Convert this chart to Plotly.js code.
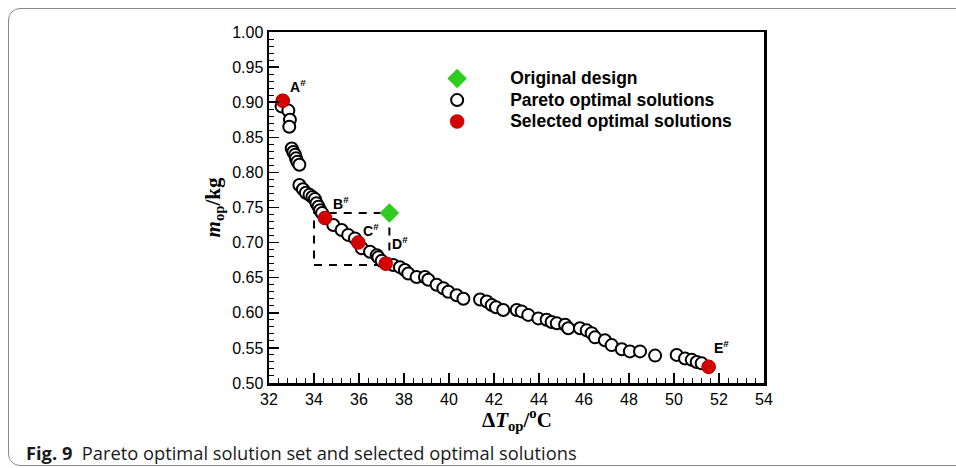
<!DOCTYPE html>
<html>
<head>
<meta charset="utf-8">
<script src="https://cdn.plot.ly/plotly-3.0.1.min.js"></script>
<style>
  html, body { margin: 0; padding: 0; background: #fff; }
  #wrap { position: relative; width: 956px; height: 468px; overflow: hidden; }
  #frame { position: absolute; left: 8px; top: 8px; width: 1100px; height: 458px;
           border: 1.5px solid #8a8a8a; border-radius: 12px; box-sizing: border-box; }
  #chart { position: absolute; left: 0; top: 0; width: 956px; height: 468px; }
</style>
</head>
<body>
<div id="wrap">
  <div id="frame"></div>
  <div id="chart"></div>
</div>
<script>
// Pareto optimal solutions (ΔT_op in °C, m_op in kg)
const paretoT = [32.61, 32.56, 32.86, 32.93, 32.90, 33.01, 33.08, 33.16, 33.20, 33.26,
  33.35, 33.35, 33.51, 33.64, 33.80, 33.93, 34.04, 34.11, 34.20, 34.27,
  34.36, 34.49, 34.86, 35.23, 35.52, 35.82, 35.97, 36.12, 36.49, 36.79,
  36.86, 37.01, 37.19, 37.52, 37.82, 38.04, 38.19, 38.56, 38.93, 39.08,
  39.45, 39.75, 39.97, 40.34, 40.64, 41.38, 41.68, 41.90, 42.09, 42.41,
  43.01, 43.23, 43.52, 43.97, 44.34, 44.56, 44.79, 45.16, 45.30, 45.82,
  46.12, 46.34, 46.49, 46.93, 47.23, 47.68, 48.04, 48.49, 49.16, 50.12,
  50.49, 50.79, 51.01, 51.23, 51.54];
const paretoM = [0.902, 0.894, 0.888, 0.875, 0.865, 0.834, 0.829, 0.825, 0.820, 0.815,
  0.811, 0.782, 0.776, 0.771, 0.768, 0.765, 0.762, 0.756, 0.751, 0.746,
  0.742, 0.735, 0.725, 0.718, 0.711, 0.706, 0.700, 0.692, 0.687, 0.682,
  0.679, 0.674, 0.670, 0.668, 0.665, 0.661, 0.656, 0.651, 0.651, 0.647,
  0.640, 0.635, 0.630, 0.625, 0.620, 0.619, 0.616, 0.611, 0.608, 0.604,
  0.604, 0.602, 0.597, 0.592, 0.590, 0.587, 0.585, 0.583, 0.578, 0.578,
  0.575, 0.571, 0.565, 0.561, 0.554, 0.548, 0.545, 0.545, 0.539, 0.540,
  0.535, 0.533, 0.530, 0.528, 0.523];

// Selected optimal solutions
const selLabels = ['A', 'B', 'C', 'D', 'E'];
const selT = [32.61, 34.49, 35.97, 37.19, 51.54];
const selM = [0.902, 0.735, 0.700, 0.670, 0.523];

// Original design
const origT = [37.35];
const origM = [0.742];

// Dashed comparison box (corners in data units)
const boxT = [34.0, 37.35];
const boxM = [0.668, 0.742];

// Axis ticks
const xTicks = [32, 34, 36, 38, 40, 42, 44, 46, 48, 50, 52, 54];
const yTicks = [0.50, 0.55, 0.60, 0.65, 0.70, 0.75, 0.80, 0.85, 0.90, 0.95, 1.00];

const labelShift = { A: [15, 15], B: [16, 15], C: [13, 13], D: [14, 21], E: [13, 20] };

const tickFont = { family: 'Liberation Sans, Arial, sans-serif', size: 16, color: '#000' };
const legText = s => '<span style="font-size:17.5px">' + s + '</span>';

const traces = [
  {
    x: paretoT, y: paretoM, type: 'scatter', mode: 'markers',
    name: legText('Pareto optimal solutions'), legendrank: 2,
    marker: { symbol: 'circle', size: 12, color: '#ffffff', line: { color: '#000', width: 2 } }
  },
  {
    x: selT, y: selM, type: 'scatter', mode: 'markers',
    name: legText('Selected optimal solutions'), legendrank: 3,
    marker: { symbol: 'circle', size: 14, color: '#d40000', line: { color: '#b00000', width: 0.5 } }
  },
  {
    x: origT, y: origM, type: 'scatter', mode: 'markers',
    name: legText('Original design'), legendrank: 1,
    marker: { symbol: 'diamond', size: 15, color: '#2ecc1f', line: { width: 0 } }
  }
];

const annotations = selLabels.map((l, i) => ({
  x: selT[i], y: selM[i], xref: 'x', yref: 'y',
  text: '<b>' + l + '<sup>#</sup></b>', showarrow: false,
  xshift: labelShift[l][0], yshift: labelShift[l][1],
  font: { family: 'Liberation Sans, Arial, sans-serif', size: 14, color: '#000' }
}));

// x-axis title (placed as annotation to sit closer to the tick labels)
annotations.push({
  xref: 'paper', yref: 'paper', x: 0.5, y: -(419 - 383) / 351,
  xanchor: 'center', yanchor: 'middle', showarrow: false,
  text: '<b>Δ<i>T</i><sub>op</sub>/<sup>o</sup>C</b>',
  font: { family: 'Liberation Serif, Times New Roman, serif', size: 21, color: '#000' }
});

annotations.push({
  xref: 'paper', yref: 'paper', x: (24 - 269) / 495, y: -(452 - 383) / 351,
  xanchor: 'left', yanchor: 'middle', showarrow: false,
  text: '<b>Fig. 9</b>  Pareto optimal solution set and selected optimal solutions',
  font: { family: 'Open Sans, Noto Sans, sans-serif', size: 18.3, color: '#1a1a1a' }
});

const layout = {
  width: 956, height: 468,
  margin: { l: 269, r: 192, t: 32, b: 85 },
  paper_bgcolor: 'rgba(0,0,0,0)', plot_bgcolor: '#fff',
  showlegend: true,
  legend: {
    x: 0.273, y: 0.912, xanchor: 'left', yanchor: 'top',
    bgcolor: 'rgba(0,0,0,0)', itemwidth: 96,
    font: { family: 'Liberation Sans, Arial, sans-serif', size: 14.2, color: '#000', weight: 'bold' }
  },
  xaxis: {
    range: [32, 54], tickvals: xTicks, ticktext: xTicks.map(String),
    ticks: 'inside', ticklen: 10, tickwidth: 1.5, tickcolor: '#000',
    minor: { dtick: 0.4, ticks: 'inside', ticklen: 5, tickwidth: 1, tickcolor: '#000' },
    showline: true, linewidth: 2.5, linecolor: '#000', mirror: true,
    showgrid: false, zeroline: false, tickfont: tickFont
  },
  yaxis: {
    range: [0.5, 1.0], tickvals: yTicks, ticktext: yTicks.map(v => v.toFixed(2)),
    ticks: 'inside', ticklen: 10, tickwidth: 1.5, tickcolor: '#000',
    minor: { dtick: 0.01, ticks: 'inside', ticklen: 5, tickwidth: 1, tickcolor: '#000' },
    showline: true, linewidth: 2.5, linecolor: '#000', mirror: true,
    showgrid: false, zeroline: false, tickfont: tickFont, automargin: true,
    title: { text: '<b><i>m</i><sub>op</sub>/kg</b>', standoff: 6,
             font: { family: 'Liberation Serif, Times New Roman, serif', size: 21, color: '#000' } }
  },
  shapes: [{
    type: 'rect', xref: 'x', yref: 'y',
    x0: boxT[0], x1: boxT[1], y0: boxM[0], y1: boxM[1],
    line: { color: '#000', width: 2, dash: '8px,7px' }, layer: 'below'
  }],
  annotations: annotations
};

Plotly.newPlot('chart', traces, layout, { displayModeBar: false, staticPlot: true });
</script>
</body>
</html>
